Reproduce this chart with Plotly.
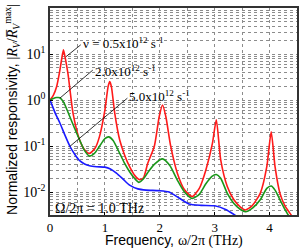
import plotly.graph_objects as go

# ---- data ----
red_x = [0.00, 0.06, 0.12, 0.17, 0.21, 0.245, 0.28, 0.33, 0.42, 0.54, 0.63, 0.72, 0.82, 0.90, 1.00, 1.06, 1.09,
         1.12, 1.18, 1.27, 1.36, 1.45, 1.55, 1.63, 1.70, 1.78, 1.90, 1.99, 2.05, 2.11, 2.20, 2.32, 2.45, 2.59,
         2.72, 2.84, 2.96, 3.03, 3.11, 3.23, 3.35, 3.47, 3.56, 3.68, 3.83, 3.95, 4.03, 4.10, 4.19, 4.28, 4.37, 4.45]
red_y = [1.00, 1.26, 1.95, 3.80, 7.41, 12.3, 7.94, 3.55, 0.513, 0.135, 0.0832, 0.0692, 0.0891, 0.158, 0.603,
         2.00, 2.51, 1.91, 0.513, 0.135, 0.0631, 0.0355, 0.0224, 0.0186, 0.0200, 0.0417, 0.0977, 0.437, 0.776,
         0.437, 0.0977, 0.0257, 0.0112, 0.00794, 0.0120, 0.0302, 0.115, 0.372, 0.0501, 0.0132, 0.00676,
         0.00468, 0.00407, 0.00501, 0.00933, 0.0355, 0.204, 0.0355, 0.00933, 0.00501, 0.00347, 0.00251]

green_x = [0.00, 0.06, 0.12, 0.18, 0.25, 0.36, 0.45, 0.54, 0.63, 0.72, 0.81, 0.90, 1.00, 1.07, 1.15, 1.27, 1.36,
           1.45, 1.55, 1.62, 1.70, 1.78, 1.90, 2.05, 2.18, 2.32, 2.45, 2.59, 2.72, 2.84, 2.95, 3.03, 3.11, 3.23,
           3.35, 3.47, 3.56, 3.70, 3.83, 3.95, 4.03, 4.10, 4.19, 4.28, 4.34, 4.40]
green_y = [1.00, 1.08, 1.13, 1.12, 0.891, 0.437, 0.240, 0.135, 0.0794, 0.0603, 0.0692, 0.0977, 0.145, 0.158,
           0.132, 0.0692, 0.0417, 0.0275, 0.0191, 0.0162, 0.0191, 0.0263, 0.0398, 0.0525, 0.0380, 0.0182,
           0.0100, 0.00724, 0.00891, 0.0151, 0.0219, 0.0240, 0.0200, 0.00933, 0.00562, 0.00417, 0.00372,
           0.00457, 0.00676, 0.0120, 0.0135, 0.0110, 0.00676, 0.00417, 0.00316, 0.00251]

blue_x = [0.00, 0.05, 0.10, 0.18, 0.27, 0.36, 0.45, 0.54, 0.63, 0.72, 0.85, 1.00, 1.10, 1.21, 1.33, 1.45, 1.60,
          1.75, 1.99, 2.17, 2.35, 2.53, 2.75, 3.00, 3.20, 3.38, 3.50]
blue_y = [1.00, 0.708, 0.501, 0.316, 0.174, 0.100, 0.0661, 0.0479, 0.0407, 0.0372, 0.0355, 0.0347, 0.0316,
          0.0257, 0.0191, 0.0141, 0.0117, 0.0110, 0.0107, 0.0100, 0.00741, 0.00550, 0.00513, 0.00501,
          0.00417, 0.00309, 0.00251]

series_names = ["\u03bd = 0.5x10<sup>12</sup> s<sup>-1</sup>", "2.0x10<sup>12</sup> s<sup>-1</sup>",
                "5.0x10<sup>12</sup> s<sup>-1</sup>"]
x_ticks = [0, 1, 2, 3, 4]
y_ticks = [0.01, 0.1, 1, 10, 100]
y_ticktext = ["10<sup>-2</sup>", "10<sup>-1</sup>", "10<sup>0</sup>", "10<sup>1</sup>", "10<sup>2</sup>"]

SERIF = "Liberation Serif"
SANS = "Liberation Sans"

fig = go.Figure()
for xs, ys, col, nm in [(red_x, red_y, "#ff1a1a", series_names[0]),
                        (green_x, green_y, "#1a961a", series_names[1]),
                        (blue_x, blue_y, "#1a1aff", series_names[2])]:
    fig.add_trace(go.Scatter(x=xs, y=ys, mode="lines", name=nm,
                             line=dict(color=col, width=1.6, shape="spline", smoothing=0.6),
                             showlegend=False, hoverinfo="skip"))

# leader lines from labels to curves
leaders = [((0.56, 10 ** 1.20), (0.29, 10 ** 0.94)),
           ((0.78, 10 ** 0.65), (0.18, 10 ** 0.04)),
           ((1.41, 10 ** 0.04), (0.36, 10 ** -1.01))]
for (xa, ya), (xb, yb) in leaders:
    fig.add_trace(go.Scatter(x=[xa, xb], y=[ya, yb], mode="lines",
                             line=dict(color="black", width=0.8), showlegend=False, hoverinfo="skip"))

label_pos = [(0.57, 1.25), (0.78, 0.64), (1.40, 0.08)]
for (lx, ly), txt in zip(label_pos, series_names):
    fig.add_annotation(x=lx, y=ly, xref="x", yref="y", text=txt, showarrow=False,
                       xanchor="left", yanchor="middle", font=dict(family=SERIF, size=13, color="black"))

fig.add_annotation(x=0.05, y=-2.35, xref="x", yref="y",
                   text="\u03a9/2\u03c0 = 1.0 THz", showarrow=False, xanchor="left", yanchor="middle",
                   font=dict(family=SERIF, size=14, color="black"))

# axis titles as annotations
fig.add_annotation(x=-0.152, y=0.51, xref="paper", yref="paper", textangle=-90, showarrow=False,
                   xanchor="center", yanchor="middle",
                   text="Normalized responsivity, <span style='font-family:Liberation Serif'>|<i>R</i><sub><i>V</i></sub>/<i>R\u0305</i><sub><i>V</i></sub><sup>max</sup>|</span>",
                   font=dict(family=SANS, size=14, color="black"))
fig.add_annotation(x=0.5, y=-0.125, xref="paper", yref="paper", showarrow=False,
                   xanchor="center", yanchor="middle",
                   text="Frequency, <span style='font-family:Liberation Serif'>\u03c9/2\u03c0 (THz)</span>",
                   font=dict(family=SANS, size=14, color="black"))

grid = dict(gridcolor="#8c8c8c", griddash="dot", gridwidth=1)
fig.update_xaxes(range=[0, 4.5], tickvals=x_ticks, ticks="inside", ticklen=3, tickcolor="black",
                 showline=True, linecolor="#333", linewidth=1.5, mirror=True,
                 showgrid=True, **grid,
                 minor=dict(dtick=0.5, showgrid=True, **grid),
                 tickfont=dict(family=SERIF, size=13, color="black"),
                 zeroline=False)
fig.update_yaxes(type="log", range=[-2.5, 2], tickvals=y_ticks, ticktext=y_ticktext, ticks="inside", ticklen=3,
                 tickcolor="black", showline=True, linecolor="#333", linewidth=1.5, mirror=True,
                 showgrid=True, **grid,
                 minor=dict(dtick="D1", showgrid=True, **grid, ticks=""),
                 tickfont=dict(family=SERIF, size=14, color="black"), zeroline=False)

fig.update_layout(width=300, height=248, margin=dict(l=50, r=1, t=8, b=33),
                  plot_bgcolor="white", paper_bgcolor="white")
fig.write_html("out.html", config={"displayModeBar": False},
               post_script="document.body.style.margin='0';document.body.style.overflow='hidden';")
